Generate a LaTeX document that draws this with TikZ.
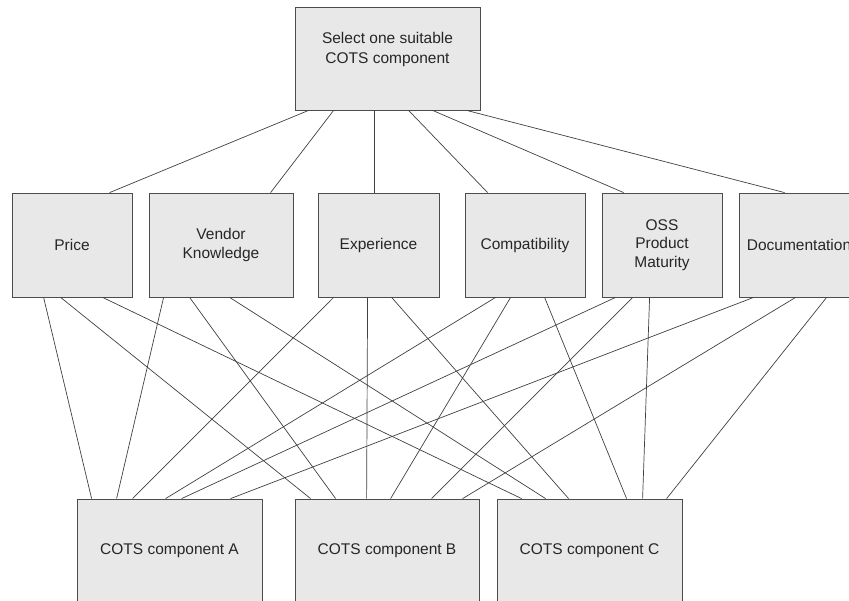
\documentclass[tikz,border=0pt]{standalone}
\usepackage{fontspec}
\setmainfont{Liberation Sans}
\begin{document}
\begin{tikzpicture}[x=1pt,y=-1pt,
    box/.style={draw=black!70, fill=black!9, line width=0.8pt, inner sep=0pt,
        align=center, text=black!85, font=\fontsize{15.5}{18.5}\selectfont},
    link/.style={draw=black!75, line width=0.7pt}]
    \useasboundingbox (0,0) rectangle (849,601);
    \clip (0,0) rectangle (849,601);

    % Goal
    \node[box, minimum width=185pt, minimum height=103pt,
        label={[align=center, text=black!85, font=\fontsize{15.5}{19.5}\selectfont, yshift=9pt]center:Select one suitable\\COTS component}]
        (goal) at (387.5,58.5) {};

    % Criteria
    \node[box, minimum width=120pt, minimum height=104pt] (price) at (72,245) {Price};
    \node[box, minimum width=144pt, minimum height=104pt] (vendor) at (221,245) {Vendor\\Knowledge};
    \node[box, minimum width=121pt, minimum height=104pt] (exper) at (378.5,245) {Experience};
    \node[box, minimum width=120pt, minimum height=104pt] (compat) at (525,245) {Compatibility};
    \node[box, minimum width=120pt, minimum height=104pt] (oss) at (662,245) {OSS\\Product\\Maturity};
    \node[box, minimum width=120pt, minimum height=104pt] (doc) at (799,245) {Documentation};

    % Alternatives
    \node[box, minimum width=185pt, minimum height=103pt] (compA) at (169.5,550.5) {COTS component A};
    \node[box, minimum width=184pt, minimum height=103pt] (compB) at (387,550.5) {COTS component B};
    \node[box, minimum width=185pt, minimum height=103pt] (compC) at (589.5,550.5) {COTS component C};

    % Goal to criteria
    \draw[link] ([xshift=14pt]goal.south west) -- ([xshift=98pt]price.north west);
    \draw[link] ([xshift=39pt]goal.south west) -- ([xshift=122pt]vendor.north west);
    \draw[link] ([xshift=80pt]goal.south west) -- ([xshift=57pt]exper.north west);
    \draw[link] ([xshift=114pt]goal.south west) -- ([xshift=23pt]compat.north west);
    \draw[link] ([xshift=138pt]goal.south west) -- ([xshift=22pt]oss.north west);
    \draw[link] ([xshift=172pt]goal.south west) -- ([xshift=46pt]doc.north west);

    % Criteria to alternatives
    \draw[link] ([xshift=32pt]price.south west) -- ([xshift=15pt]compA.north west);
    \draw[link] ([xshift=49pt]price.south west) -- ([xshift=16pt]compB.north west);
    \draw[link] ([xshift=91pt]price.south west) -- ([xshift=25pt]compC.north west);

    \draw[link] ([xshift=15pt]vendor.south west) -- ([xshift=40pt]compA.north west);
    \draw[link] ([xshift=41pt]vendor.south west) -- ([xshift=41pt]compB.north west);
    \draw[link] ([xshift=81pt]vendor.south west) -- ([xshift=49pt]compC.north west);

    \draw[link] ([xshift=16pt]exper.south west) -- ([xshift=56pt]compA.north west);
    \draw[link] ([xshift=50pt]exper.south west) -- ([xshift=72pt]compB.north west);
    \draw[link] ([xshift=74pt]exper.south west) -- ([xshift=72pt]compC.north west);

    \draw[link] ([xshift=31pt]compat.south west) -- ([xshift=89pt]compA.north west);
    \draw[link] ([xshift=46pt]compat.south west) -- ([xshift=96pt]compB.north west);
    \draw[link] ([xshift=80pt]compat.south west) -- ([xshift=130pt]compC.north west);

    \draw[link] ([xshift=14pt]oss.south west) -- ([xshift=105pt]compA.north west);
    \draw[link] ([xshift=31pt]oss.south west) -- ([xshift=137pt]compB.north west);
    \draw[link] ([xshift=48pt]oss.south west) -- ([xshift=146pt]compC.north west);

    \draw[link] ([xshift=15pt]doc.south west) -- ([xshift=154pt]compA.north west);
    \draw[link] ([xshift=57pt]doc.south west) -- ([xshift=168pt]compB.north west);
    \draw[link] ([xshift=88pt]doc.south west) -- ([xshift=170pt]compC.north west);
\end{tikzpicture}
\end{document}
